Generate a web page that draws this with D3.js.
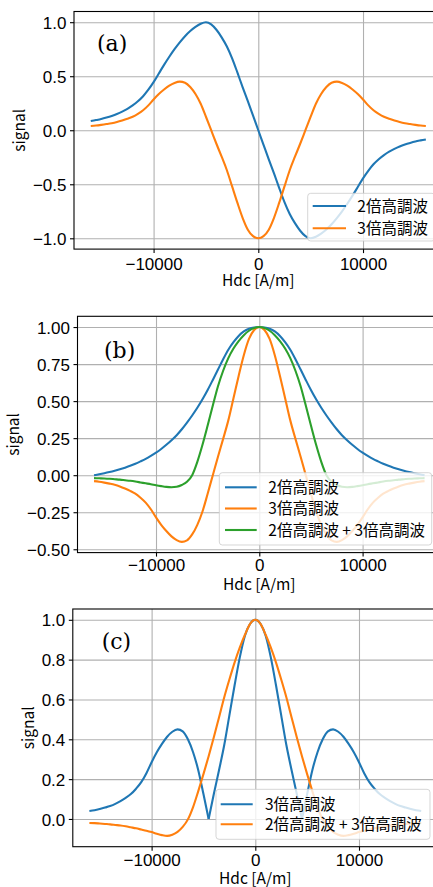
<!DOCTYPE html>
<html><head><meta charset="utf-8">
<script src="https://cdn.jsdelivr.net/npm/d3@7"></script>
<style>
body{margin:0;background:#fff}
svg{display:block}
text{font-family:"Noto Sans CJK JP","Noto Sans",sans-serif;fill:#000}
</style>
</head><body>
<svg id="chart" width="433" height="887"></svg>
<script>
// ---------------- data ----------------
const hdc = [-16000,-15500,-15000,-14500,-14000,-13500,-13000,-12500,-12000,-11500,-11000,-10500,-10000,-9500,-9000,-8500,-8000,-7500,-7000,-6500,-6000,-5500,-5000,-4500,-4000,-3500,-3000,-2500,-2000,-1500,-1000,-500,
  0,
  500,1000,1500,2000,2500,3000,3500,4000,4500,5000,5500,6000,6500,7000,7500,8000,8500,9000,9500,10000,10500,11000,11500,12000,12500,13000,13500,14000,14500,15000,15500,16000];

// panel (a)
const a_h2 = [0.085,0.094,0.104,0.117,0.132,0.150,0.172,0.198,0.23,0.268,0.315,0.375,0.445,0.525,0.605,0.68,0.75,0.813,0.87,0.918,0.956,0.985,0.999,0.98,0.93,0.86,0.775,0.665,0.535,0.40,0.27,0.135,
  0,
  -0.135,-0.27,-0.40,-0.535,-0.665,-0.775,-0.86,-0.93,-0.98,-0.999,-0.985,-0.956,-0.918,-0.87,-0.813,-0.75,-0.68,-0.605,-0.525,-0.445,-0.375,-0.315,-0.268,-0.23,-0.198,-0.172,-0.150,-0.132,-0.117,-0.104,-0.094,-0.085];
const a_h3 = [0.04,0.044,0.05,0.057,0.065,0.076,0.09,0.106,0.125,0.152,0.185,0.23,0.285,0.335,0.377,0.413,0.438,0.45,0.44,0.40,0.335,0.245,0.125,0.0,-0.125,-0.245,-0.37,-0.52,-0.67,-0.81,-0.92,-0.98,
  -1.0,
  -0.98,-0.92,-0.81,-0.67,-0.52,-0.37,-0.245,-0.125,0.0,0.125,0.245,0.335,0.40,0.44,0.45,0.438,0.413,0.377,0.335,0.285,0.23,0.185,0.152,0.125,0.106,0.09,0.076,0.065,0.057,0.05,0.044,0.04];

// panel (b)
const b_h2 = [0.0,0.006,0.013,0.021,0.03,0.04,0.051,0.063,0.077,0.093,0.11,0.13,0.152,0.177,0.205,0.236,0.27,0.31,0.355,0.403,0.455,0.512,0.575,0.643,0.713,0.783,0.847,0.898,0.94,0.97,0.988,0.997,
  1.0,
  0.997,0.988,0.97,0.94,0.898,0.847,0.783,0.713,0.643,0.575,0.512,0.455,0.403,0.355,0.31,0.27,0.236,0.205,0.177,0.152,0.13,0.11,0.093,0.077,0.063,0.051,0.04,0.03,0.021,0.013,0.006,0.0];
const b_h3 = [-0.04,-0.044,-0.05,-0.057,-0.065,-0.076,-0.09,-0.106,-0.125,-0.152,-0.185,-0.23,-0.285,-0.335,-0.377,-0.413,-0.438,-0.45,-0.44,-0.40,-0.335,-0.245,-0.125,0.0,0.125,0.245,0.37,0.52,0.67,0.81,0.92,0.98,
  1.0,
  0.98,0.92,0.81,0.67,0.52,0.37,0.245,0.125,0.0,-0.125,-0.245,-0.335,-0.40,-0.44,-0.45,-0.438,-0.413,-0.377,-0.335,-0.285,-0.23,-0.185,-0.152,-0.125,-0.106,-0.09,-0.076,-0.065,-0.057,-0.05,-0.044,-0.04];
const b_sum = [-0.02,-0.021,-0.022,-0.024,-0.027,-0.03,-0.034,-0.038,-0.043,-0.049,-0.055,-0.061,-0.068,-0.074,-0.079,-0.081,-0.078,-0.066,-0.045,0.0,0.09,0.205,0.335,0.47,0.60,0.705,0.79,0.855,0.905,0.945,0.975,0.993,
  1.0,
  0.993,0.975,0.945,0.905,0.855,0.79,0.705,0.60,0.47,0.335,0.205,0.09,0.0,-0.045,-0.066,-0.078,-0.081,-0.079,-0.074,-0.068,-0.061,-0.055,-0.049,-0.043,-0.038,-0.034,-0.03,-0.027,-0.024,-0.022,-0.021,-0.02];

// panel (c)
const c_h3 = [0.04,0.044,0.05,0.057,0.065,0.076,0.09,0.106,0.125,0.152,0.185,0.23,0.285,0.335,0.377,0.413,0.438,0.45,0.44,0.40,0.335,0.245,0.125,0.0,0.125,0.245,0.37,0.52,0.67,0.81,0.92,0.98,
  1.0,
  0.98,0.92,0.81,0.67,0.52,0.37,0.245,0.125,0.0,0.125,0.245,0.335,0.40,0.44,0.45,0.438,0.413,0.377,0.335,0.285,0.23,0.185,0.152,0.125,0.106,0.09,0.076,0.065,0.057,0.05,0.044,0.04];
const c_sum = [-0.02,-0.021,-0.023,-0.025,-0.027,-0.03,-0.033,-0.037,-0.042,-0.047,-0.053,-0.059,-0.066,-0.074,-0.081,-0.085,-0.079,-0.065,-0.04,-0.002,0.06,0.14,0.225,0.315,0.41,0.51,0.61,0.70,0.785,0.86,0.925,0.98,
  1.0,
  0.98,0.925,0.86,0.785,0.70,0.61,0.51,0.41,0.315,0.225,0.14,0.06,-0.002,-0.04,-0.065,-0.079,-0.085,-0.081,-0.074,-0.066,-0.059,-0.053,-0.047,-0.042,-0.037,-0.033,-0.03,-0.027,-0.025,-0.023,-0.021,-0.02];

// ticks and labels
const xTickValues = [-10000, 0, 10000];
const yTicksA = [-1.0, -0.5, 0.0, 0.5, 1.0];
const yTicksB = [-0.50, -0.25, 0.00, 0.25, 0.50, 0.75, 1.00];
const yTicksC = [0.0, 0.2, 0.4, 0.6, 0.8, 1.0];
const nameH2 = "2倍高調波";
const nameH3 = "3倍高調波";
const nameSum = "2倍高調波 + 3倍高調波";
const panelLetters = ["(a)", "(b)", "(c)"];
const xLabel = "Hdc [A/m]";
const yLabel = "signal";

// ---------------- drawing ----------------
const C_BLUE = "#1f77b4", C_ORANGE = "#ff7f0e", C_GREEN = "#2ca02c";
const FS = 15.5;          // labels / legend
const TICK_FS = 17;       // tick labels
const TICK_FONT = "'Liberation Sans', Arial, sans-serif";
const svg = d3.select("#chart");

function padExtent(vals) {
  const [lo, hi] = d3.extent(vals);
  const m = (hi - lo) * 0.05;
  return [lo - m, hi + m];
}

function splitAtCusps(pts) {
  const segs = [];
  let cur = [];
  pts.forEach((p, i) => {
    cur.push(p);
    if (i > 0 && i < pts.length - 1 && p[1] === 0 && pts[i-1][1] > 0 && pts[i+1][1] > 0) {
      segs.push(cur); cur = [p];
    }
  });
  segs.push(cur);
  return segs;
}

function drawPanel(p) {
  const x = d3.scaleLinear().domain(padExtent(hdc)).range([p.left, p.right]);
  const y = d3.scaleLinear().domain(padExtent(p.series.flatMap(s => s.values))).range([p.bottom, p.top]);
  const g = svg.append("g");

  // grid
  const gx = g.append("g").attr("transform", `translate(0,${p.bottom})`)
    .call(d3.axisBottom(x).tickValues(xTickValues).tickSize(-(p.bottom - p.top)).tickFormat(""));
  const gy = g.append("g").attr("transform", `translate(${p.left},0)`)
    .call(d3.axisLeft(y).tickValues(p.yTicks).tickSize(-(p.right - p.left)).tickFormat(""));
  [gx, gy].forEach(a => {
    a.select(".domain").remove();
    a.selectAll("line").attr("stroke", "#b0b0b0").attr("stroke-width", 1.1);
  });

  // curves
  const line = d3.line().x(d => x(d[0])).y(d => y(d[1])).curve(d3.curveMonotoneX);
  p.series.forEach(s => {
    const pts = hdc.map((h, i) => [h, s.values[i]]);
    splitAtCusps(pts).forEach(seg => {
      g.append("path").attr("d", line(seg)).attr("fill", "none")
        .attr("stroke", s.color).attr("stroke-width", 2.1).attr("stroke-linejoin", "round");
    });
  });

  // spines
  g.append("rect").attr("x", p.left).attr("y", p.top)
    .attr("width", p.right - p.left).attr("height", p.bottom - p.top)
    .attr("fill", "none").attr("stroke", "#000").attr("stroke-width", 1.1);

  // axes with tick labels
  const ax = g.append("g").attr("transform", `translate(0,${p.bottom})`)
    .call(d3.axisBottom(x).tickValues(xTickValues).tickSize(4).tickPadding(p.xPad).tickFormat(d3.format("d")));
  const ay = g.append("g").attr("transform", `translate(${p.left},0)`)
    .call(d3.axisLeft(y).tickValues(p.yTicks).tickSize(4).tickPadding(3.5).tickFormat(d3.format(p.yFmt)));
  [ax, ay].forEach(a => {
    a.select(".domain").remove();
    a.attr("font-family", null).attr("font-size", null);
    a.selectAll("line").attr("stroke", "#000").attr("stroke-width", 1.1);
    a.selectAll("text").style("font-family", TICK_FONT).attr("font-size", TICK_FS).attr("fill", "#000");
  });
  ay.selectAll("text").attr("dy", "0.36em");

  // axis labels
  g.append("text").attr("x", x(0)).attr("y", p.xLabelY).attr("text-anchor", "middle")
    .attr("font-size", FS).text(xLabel);
  g.append("text").attr("transform", `translate(${p.yLabelX},${(p.top + p.bottom) / 2}) rotate(-90)`)
    .attr("text-anchor", "middle").attr("font-size", FS).text(yLabel);

  // panel letter
  g.append("text").attr("x", p.letterX).attr("y", p.letterY)
    .style("font-family", "'DejaVu Serif', serif").attr("font-size", 22).text(p.letter);

  // legend
  const L = p.legend;
  g.append("rect").attr("x", L.x0).attr("y", L.y0).attr("width", L.x1 - L.x0).attr("height", L.y1 - L.y0)
    .attr("rx", 3).attr("fill", "#fff").attr("fill-opacity", 0.8)
    .attr("stroke", "#cccccc").attr("stroke-opacity", 0.8).attr("stroke-width", 1);
  p.series.forEach((s, i) => {
    const ry = L.rows[i];
    g.append("line").attr("x1", L.lx0).attr("x2", L.lx1).attr("y1", ry).attr("y2", ry)
      .attr("stroke", s.color).attr("stroke-width", 2.1);
    g.append("text").attr("x", L.tx).attr("y", ry).attr("dy", "0.36em")
      .attr("font-size", FS).attr("xml:space", "preserve").style("white-space", "pre").text(s.name);
  });
}

drawPanel({
  left: 74.0, right: 442.6, top: 11.5, bottom: 249.1,
  yTicks: yTicksA, yFmt: ".1f", xPad: 4.8,
  xLabelY: 285.5, yLabelX: 24.5,
  letter: panelLetters[0], letterX: 97, letterY: 50.5,
  series: [
    {name: nameH2, values: a_h2, color: C_BLUE},
    {name: nameH3, values: a_h3, color: C_ORANGE}
  ],
  legend: {x0: 307.7, x1: 435, y0: 193.3, y1: 241, rows: [206, 228.3], lx0: 312.7, lx1: 346, tx: 357.3}
});

drawPanel({
  left: 77.5, right: 441.1, top: 316.3, bottom: 552.6,
  yTicks: yTicksB, yFmt: ".2f", xPad: 2.5,
  xLabelY: 590, yLabelX: 19,
  letter: panelLetters[1], letterX: 104, letterY: 358,
  series: [
    {name: nameH2, values: b_h2, color: C_BLUE},
    {name: nameH3, values: b_h3, color: C_ORANGE},
    {name: nameSum, values: b_sum, color: C_GREEN}
  ],
  legend: {x0: 219.3, x1: 431.7, y0: 472.7, y1: 545, rows: [487.3, 508.5, 530], lx0: 225, lx1: 256.7, tx: 268.3}
});

drawPanel({
  left: 72.8, right: 437.8, top: 609.0, bottom: 846.7,
  yTicks: yTicksC, yFmt: ".1f", xPad: 3.3,
  xLabelY: 884, yLabelX: 34,
  letter: panelLetters[2], letterX: 101.7, letterY: 649,
  series: [
    {name: nameH3, values: c_h3, color: C_BLUE},
    {name: nameSum, values: c_sum, color: C_ORANGE}
  ],
  legend: {x0: 216, x1: 430, y0: 789.3, y1: 839.3, rows: [804.3, 824.3], lx0: 220.7, lx1: 252.7, tx: 265}
});
</script>
</body></html>
